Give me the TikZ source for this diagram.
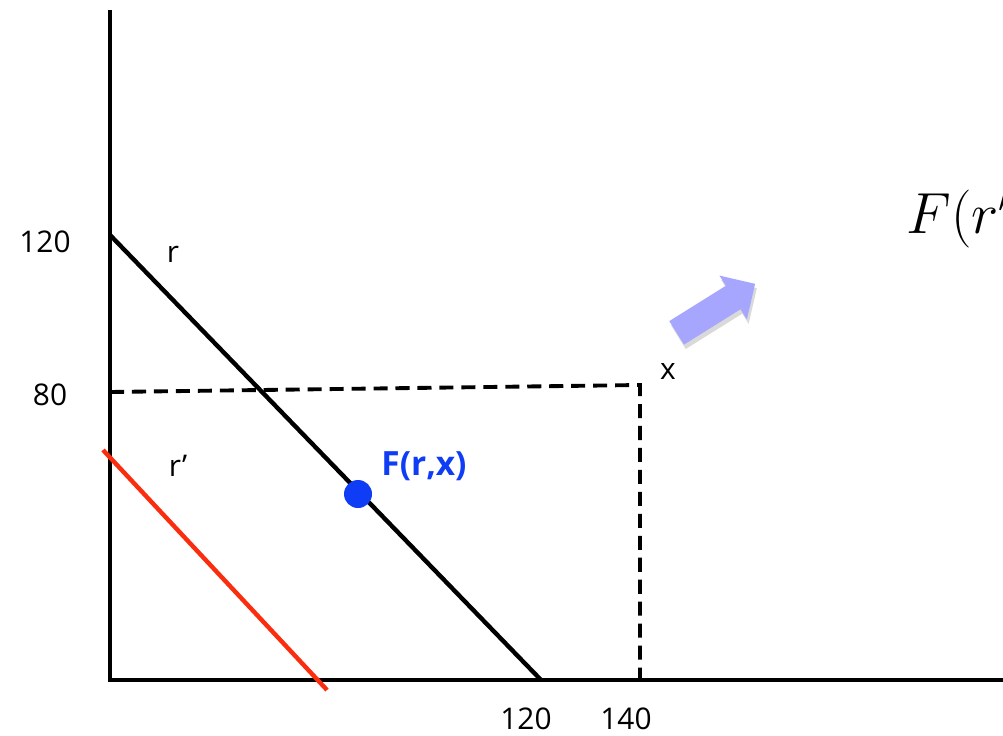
\RequirePackage{fix-cm}
\documentclass[tikz,border=0pt]{standalone}
\usepackage{amsmath,amssymb}
\usepackage{xcolor}
\usepackage{fontspec}
\setmainfont{Open Sans}
\usetikzlibrary{shapes.arrows,shadows}
\definecolor{rline}{RGB}{250,45,15}
\definecolor{dotblue}{RGB}{15,60,245}

\begin{document}
\begin{tikzpicture}[x=0.02cm,y=-0.02cm,
  axis/.style={line width=2.4pt},
  budget/.style={line width=2.5pt},
  guide/.style={line width=2.2pt,dash pattern=on 8pt off 4.5pt},
  lbl/.style={font=\fontsize{17}{20}\selectfont,inner sep=0pt}]
\useasboundingbox (0,0) rectangle (1003,736);
\clip (0,0) rectangle (1003,736);
\coordinate (top) at (110,10);
\coordinate (O) at (110,680);
\coordinate (xend) at (1010,680);
\coordinate (r0) at (110,235);
\coordinate (r1) at (541,680);
\coordinate (s0) at (103,450);
\coordinate (s1) at (327,690);
\coordinate (g0) at (110,392);
\coordinate (g1) at (640,385);
\coordinate (g2) at (640,680);
\draw[axis] (top) -- (O) -- (xend);
\draw[budget] (r0) -- (r1);
\draw[budget,rline] (s0) -- (s1);
\draw[guide] (g0) -- (g1) -- (g2);
\fill[dotblue] (358,494) circle (14) coordinate (dot);
\node[lbl,font=\fontsize{19}{22}\selectfont\bfseries,text=dotblue] (frx) at (424,466) {F(r,x)};
\node[lbl] (rlab) at (173,254) {r};
\node[lbl] (rplab) at (178,466) {r'};
\node[lbl] (xlab) at (668,372) {x};
\node[lbl] (y120) at (45,242) {120};
\node[lbl] (y80) at (50,395) {80};
\node[lbl] (x120) at (526,719) {120};
\node[lbl] (x140) at (626,719) {140};
\node[anchor=base west,inner sep=0pt,font=\fontsize{33}{40}\selectfont] (frp) at (906,234) {$F(r')$};
\node[single arrow,fill=blue!35,draw=none,rotate=32,inner sep=0.27cm,
  minimum height=1.85cm,single arrow head extend=0.24cm,
  drop shadow={opacity=0.3,shadow xshift=1pt,shadow yshift=-2.5pt}] (move) at (710,312) {};
\end{tikzpicture}
\end{document}
